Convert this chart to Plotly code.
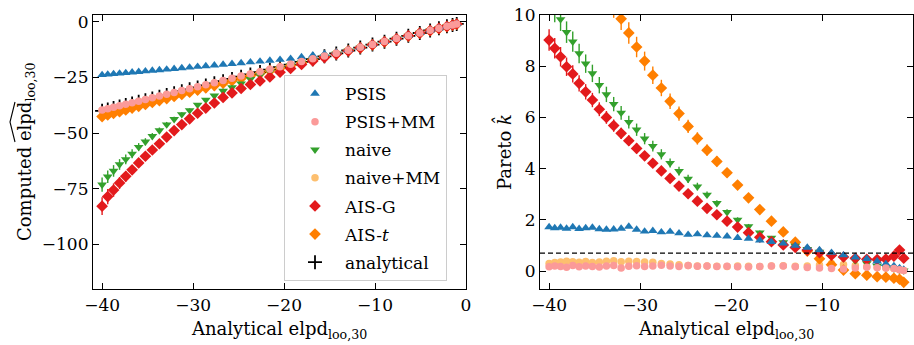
import plotly.graph_objects as go

# ---------------- data ----------------
elpd_true = [-40.00, -39.38, -38.74, -38.08, -37.40, -36.70, -35.98, -35.24, -34.48, -33.70,
             -32.90, -32.08, -31.24, -30.38, -29.50, -28.60, -27.66, -26.70, -25.72, -24.72,
             -23.70, -22.64, -21.56, -20.44, -19.28, -18.08, -16.84, -15.56, -14.26, -12.94,
             -11.62, -10.28, -8.96, -7.64, -6.34, -5.08, -3.94, -2.98, -2.10, -1.48, -1.02]

analytical_elpd = [-40.00, -39.38, -38.74, -38.08, -37.40, -36.70, -35.98, -35.24, -34.48, -33.70,
                   -32.90, -32.08, -31.24, -30.38, -29.50, -28.60, -27.66, -26.70, -25.72, -24.72,
                   -23.70, -22.64, -21.56, -20.44, -19.28, -18.08, -16.84, -15.56, -14.26, -12.94,
                   -11.62, -10.28, -8.96, -7.64, -6.34, -5.08, -3.94, -2.98, -2.10, -1.48, -1.02]

psis_elpd = [-23.9, -23.68, -23.46, -23.23, -22.99, -22.74, -22.49, -22.23, -21.97, -21.7,
             -21.41, -21.13, -20.83, -20.53, -20.22, -19.91, -19.58, -19.24, -18.9, -18.55,
             -18.2, -17.82, -17.45, -17.05, -16.6, -15.9, -15.1, -14.5, -13.7, -12.7,
             -11.5, -10.2, -8.9, -7.6, -6.3, -5.0, -3.9, -2.95, -2.08, -1.47, -1.0]

psis_mm_elpd = [-39.7, -39.08, -38.44, -37.78, -37.1, -36.4, -35.68, -34.94, -34.18, -33.4,
                -32.6, -31.78, -30.94, -30.08, -29.2, -28.3, -27.36, -26.4, -25.42, -24.42,
                -23.5, -22.44, -21.36, -20.24, -19.08, -17.9, -16.66, -15.4, -14.12, -12.82,
                -11.52, -10.2, -8.88, -7.57, -6.28, -5.03, -3.9, -2.95, -2.08, -1.47, -1.0]

naive_mm_elpd = [-39.9, -39.28, -38.64, -37.98, -37.3, -36.6, -35.88, -35.14, -34.38, -33.6,
                 -32.8, -31.98, -31.14, -30.28, -29.4, -28.5, -27.56, -26.6, -25.62, -24.62,
                 -23.6, -22.54, -21.46, -20.34, -19.18, -17.98, -16.74, -15.46, -14.16, -12.84,
                 -11.52, -10.18, -8.86, -7.54, -6.24, -5.0, -3.86, -2.92, -2.05, -1.45, -1.0]

ais_t_elpd = [-42.6, -41.88, -41.14, -40.38, -39.6, -38.8, -37.98, -37.14, -36.28, -35.4,
              -34.5, -33.58, -32.64, -31.68, -30.7, -29.7, -28.66, -27.6, -26.52, -25.42,
              -24.3, -23.14, -22.01, -20.84, -19.63, -18.38, -17.09, -15.76, -14.46, -13.09,
              -11.77, -10.38, -9.06, -7.74, -6.44, -5.18, -4.04, -3.08, -2.2, -1.58, -1.12]

naive_elpd = [-73.2, -69.6, -67.0, -64.1, -61.8, -59.3, -56.3, -53.9, -51.4, -48.8,
              -46.2, -43.8, -41.6, -39.8, -37.3, -35.1, -33.2, -31.1, -29.5, -27.8,
              -25.8, -24.0, -22.5, -21.0, -19.7, -18.35, -17.0, -15.65, -14.3, -12.95,
              -11.62, -10.28, -8.96, -7.64, -6.34, -5.08, -3.94, -2.98, -2.10, -1.48, -1.02]
naive_elpd_err = [3.2, 2.8, 2.6, 2.4, 2.2, 2.0, 1.8, 1.6, 1.4, 1.3,
                  1.2, 1.1, 1.0, 0.9, 0.8, 0.7, 0.6, 0.5, 0.45, 0.4,
                  0.35, 0.3, 0.25, 0.2, 0.2, 0.15, 0.15, 0.1, 0.1, 0.1,
                  0.1, 0.1, 0.1, 0.1, 0.1, 0.1, 0.1, 0.1, 0.1, 0.1, 0.1]

ais_g_elpd = [-82.8, -78.5, -75.6, -72.4, -69.4, -66.5, -63.4, -60.4, -57.6, -54.8,
              -51.8, -48.9, -46.2, -43.6, -41.1, -38.8, -36.5, -34.0, -32.0, -30.0,
              -28.2, -26.6, -24.8, -22.7, -21.0, -19.2, -17.6, -16.1, -14.6, -13.15,
              -11.75, -10.35, -9.0, -7.68, -6.37, -5.1, -3.96, -3.0, -2.12, -1.5, -1.04]
ais_g_elpd_err = [4.0, 3.4, 3.0, 2.7, 2.4, 2.2, 2.0, 1.8, 1.6, 1.4,
                  1.3, 1.2, 1.1, 1.0, 0.9, 0.8, 0.7, 0.6, 0.5, 0.45,
                  0.4, 0.35, 0.3, 0.25, 0.2, 0.2, 0.15, 0.1, 0.1, 0.1,
                  0.1, 0.1, 0.1, 0.1, 0.1, 0.1, 0.1, 0.1, 0.1, 0.1, 0.1]

# Pareto k-hat values
psis_k = [1.72, 1.68, 1.70, 1.66, 1.72, 1.65, 1.68, 1.70, 1.64, 1.62,
          1.63, 1.66, 1.74, 1.62, 1.55, 1.57, 1.52, 1.54, 1.48, 1.42,
          1.44, 1.40, 1.38, 1.36, 1.30, 1.27, 1.20, 1.14, 1.08, 0.99,
          0.92, 0.82, 0.72, 0.62, 0.54, 0.48, 0.38, 0.28, 0.20, 0.12, 0.06]
psis_mm_k = [0.17, 0.20, 0.18, 0.15, 0.22, 0.17, 0.20, 0.18, 0.16, 0.20,
             0.22, 0.12, 0.19, 0.21, 0.18, 0.20, 0.23, 0.20, 0.18, 0.22,
             0.19, 0.20, 0.18, 0.19, 0.17, 0.16, 0.18, 0.20, 0.20, 0.17,
             0.14, 0.12, 0.10, 0.08, 0.12, 0.15, 0.13, 0.12, 0.10, 0.05, 0.02]
naive_mm_k = [0.30, 0.33, 0.35, 0.38, 0.36, 0.34, 0.37, 0.33, 0.35, 0.38,
              0.40, 0.36, 0.38, 0.37, 0.35, 0.34, 0.30, 0.28, 0.25, 0.22,
              0.20, 0.20, 0.19, 0.18, 0.20, 0.19, 0.18, 0.20, 0.21, 0.19,
              0.20, 0.24, 0.30, 0.26, 0.22, 0.18, 0.15, 0.12, 0.10, 0.05, 0.02]
naive_k = [10.6, 10.2, 9.83, 9.33, 8.96, 8.5, 8.1, 7.72, 7.26, 6.9,
           6.52, 6.18, 5.82, 5.52, 5.17, 4.88, 4.56, 4.22, 3.9, 3.6,
           3.3, 2.98, 2.65, 2.3, 2.0, 1.75, 1.5, 1.3, 1.12, 0.98,
           0.86, 0.75, 0.62, 0.5, 0.4, 0.3, 0.2, 0.15, 0.1, 0.05, 0.02]
naive_k_err = [0.5, 0.48, 0.45, 0.42, 0.4, 0.38, 0.36, 0.34, 0.32, 0.3,
               0.28, 0.27, 0.25, 0.24, 0.22, 0.21, 0.2, 0.18, 0.17, 0.16,
               0.15, 0.13, 0.12, 0.11, 0.1, 0.09, 0.08, 0.07, 0.06, 0.05,
               0.05, 0.04, 0.04, 0.04, 0.03, 0.03, 0.03, 0.03, 0.03, 0.03, 0.03]
ais_g_k = [9.02, 8.70, 8.37, 7.98, 7.70, 7.33, 7.0, 6.68, 6.32, 6.0,
           5.68, 5.38, 5.09, 4.79, 4.5, 4.21, 3.91, 3.62, 3.32, 3.02,
           2.73, 2.45, 2.2, 1.95, 1.72, 1.5, 1.32, 1.15, 1.02, 0.92,
           0.82, 0.72, 0.62, 0.55, 0.5, 0.46, 0.45, 0.47, 0.58, 0.82, 0.5]
ais_g_k_err = [0.42, 0.4, 0.38, 0.36, 0.34, 0.32, 0.3, 0.28, 0.27, 0.25,
               0.24, 0.22, 0.21, 0.2, 0.19, 0.18, 0.17, 0.15, 0.14, 0.13,
               0.12, 0.11, 0.1, 0.09, 0.08, 0.07, 0.06, 0.06, 0.05, 0.05,
               0.04, 0.04, 0.04, 0.04, 0.03, 0.03, 0.03, 0.03, 0.04, 0.06, 0.05]
ais_t_k = [17.0, 16.2, 15.4, 14.6, 13.9, 13.2, 12.5, 11.9, 11.3, 10.8,
           10.35, 9.85, 9.3, 8.75, 8.2, 7.65, 7.15, 6.63, 6.15, 5.65,
           5.18, 4.72, 4.28, 3.84, 3.36, 2.86, 2.4, 1.95, 1.53, 1.13,
           0.78, 0.48, 0.25, 0.04, -0.1, -0.16, -0.22, -0.24, -0.28, -0.32, -0.44]
ais_t_k_err = [0.7, 0.68, 0.65, 0.62, 0.6, 0.57, 0.55, 0.52, 0.5, 0.48,
               0.46, 0.44, 0.42, 0.4, 0.37, 0.34, 0.32, 0.3, 0.28, 0.26,
               0.24, 0.22, 0.2, 0.18, 0.16, 0.14, 0.12, 0.1, 0.08, 0.07,
               0.06, 0.05, 0.04, 0.04, 0.04, 0.04, 0.04, 0.04, 0.04, 0.04, 0.04]

k_threshold = 0.7

x_ticks = [-40, -30, -20, -10, 0]
y1_ticks = [0, -25, -50, -75, -100]
y2_ticks = [0, 2, 4, 6, 8, 10]

# ---------------- styling ----------------
W, H = 914, 345
FONT = "DejaVu Serif"
FS = 17       # ticks, legend
FS_T = 18     # axis titles

BLUE = "#1f78b4"
PINK = "#fb9a99"
GREEN = "#33a02c"
LORANGE = "#fdbf6f"
RED = "#e31a1c"
ORANGE = "#ff7f00"

def fx(p):
    return p / W

def fy(p):
    return 1 - p / H

fig = go.Figure()

series = [
    # name, left y, left err, right y, right err, color, symbol, size, rank
    ("analytical", analytical_elpd, None, None, None, "black", "cross-thin", 10, 7),
    ("naive+MM", naive_mm_elpd, None, naive_mm_k, None, LORANGE, "circle", 7.5, 4),
    ("AIS-<i>t</i>", ais_t_elpd, None, ais_t_k, ais_t_k_err, ORANGE, "diamond", 9, 6),
    ("naive", naive_elpd, naive_elpd_err, naive_k, naive_k_err, GREEN, "triangle-down", 8.5, 3),
    ("AIS-G", ais_g_elpd, ais_g_elpd_err, ais_g_k, ais_g_k_err, RED, "diamond", 9, 5),
    ("PSIS", psis_elpd, None, psis_k, None, BLUE, "triangle-up", 8.5, 1),
    ("PSIS+MM", psis_mm_elpd, None, psis_mm_k, None, PINK, "circle", 7.5, 2),
]

for name, yl, el, yr, er, col, sym, sz, rank in series:
    if sym == "cross-thin":
        mk = dict(symbol=sym, size=sz, color=col, line=dict(width=1.8, color=col))
    else:
        mk = dict(symbol=sym, size=sz, color=col, line=dict(width=0))
    err = None
    if el is not None:
        err = dict(type="data", array=el, visible=True, color=col, thickness=1.4, width=0)
    fig.add_trace(go.Scatter(
        x=elpd_true, y=yl, mode="markers", name=name, marker=mk, error_y=err,
        xaxis="x", yaxis="y", legendgroup=name, legendrank=rank, showlegend=True,
        cliponaxis=True))
    if yr is not None:
        err2 = None
        if er is not None:
            err2 = dict(type="data", array=er, visible=True, color=col, thickness=1.4, width=0)
        fig.add_trace(go.Scatter(
            x=elpd_true, y=yr, mode="markers", name=name, marker=mk, error_y=err2,
            xaxis="x2", yaxis="y2", legendgroup=name, showlegend=False, cliponaxis=True))

axis_common = dict(
    showline=True, linecolor="black", linewidth=1.2, mirror="allticks",
    ticks="inside", ticklen=6, tickwidth=1.2, tickcolor="black",
    showgrid=False, zeroline=False,
    tickfont=dict(family=FONT, size=FS, color="black"),
    automargin=False,
)

fig.update_layout(
    width=W, height=H,
    margin=dict(l=0, r=0, t=0, b=0),
    paper_bgcolor="white", plot_bgcolor="white",
    font=dict(family=FONT, size=FS, color="black"),
    xaxis=dict(domain=[fx(93), fx(466)], range=[-41, 0], tickvals=x_ticks,
               anchor="y", **axis_common),
    yaxis=dict(domain=[fy(289), fy(15)], range=[-120, 3], tickvals=y1_ticks,
               anchor="x", **axis_common),
    xaxis2=dict(domain=[fx(540), fx(913)], range=[-41, 0], tickvals=x_ticks,
                anchor="y2", **axis_common),
    yaxis2=dict(domain=[fy(289), fy(15)], range=[-0.7, 10], tickvals=y2_ticks,
                anchor="x2", **axis_common),
    legend=dict(
        x=fx(284), y=fy(75), xanchor="left", yanchor="top",
        bgcolor="white", bordercolor="#cccccc", borderwidth=1,
        font=dict(family=FONT, size=FS, color="black"),
        tracegroupgap=3, itemwidth=50, traceorder="grouped",
    ),
    shapes=[
        dict(type="line", xref="x2 domain", x0=0, x1=1, yref="y2",
             y0=k_threshold, y1=k_threshold,
             line=dict(color="black", width=1.3, dash="5px,3px")),
        # wide hat over "elpd" in the rotated y title
        dict(type="path", xref="paper", yref="paper",
             path=f"M {fx(15)},{fy(142)} L {fx(10)},{fy(122)} L {fx(15)},{fy(102)}",
             line=dict(color="black", width=1.1)),
    ],
    annotations=[
        dict(text="Analytical elpd<sub>loo,30</sub>", x=fx(279), y=fy(330),
             xanchor="center", yanchor="middle",
             xref="paper", yref="paper", showarrow=False,
             font=dict(family=FONT, size=FS_T, color="black")),
        dict(text="Analytical elpd<sub>loo,30</sub>", x=fx(726), y=fy(330),
             xanchor="center", yanchor="middle",
             xref="paper", yref="paper", showarrow=False,
             font=dict(family=FONT, size=FS_T, color="black")),
        dict(text="Computed elpd<sub>loo,30</sub>", x=fx(26), y=fy(152),
             xanchor="center", yanchor="middle",
             xref="paper", yref="paper", showarrow=False, textangle=-90,
             font=dict(family=FONT, size=FS_T, color="black")),
        dict(text="Pareto <i>k̂</i>", x=fx(503), y=fy(152),
             xanchor="center", yanchor="middle",
             xref="paper", yref="paper", showarrow=False, textangle=-90,
             font=dict(family=FONT, size=FS_T, color="black")),
    ],
)

fig.write_html(
    "out.html",
    config={"displayModeBar": False},
    post_script="document.body.style.margin='0px';document.documentElement.style.margin='0px';",
)
